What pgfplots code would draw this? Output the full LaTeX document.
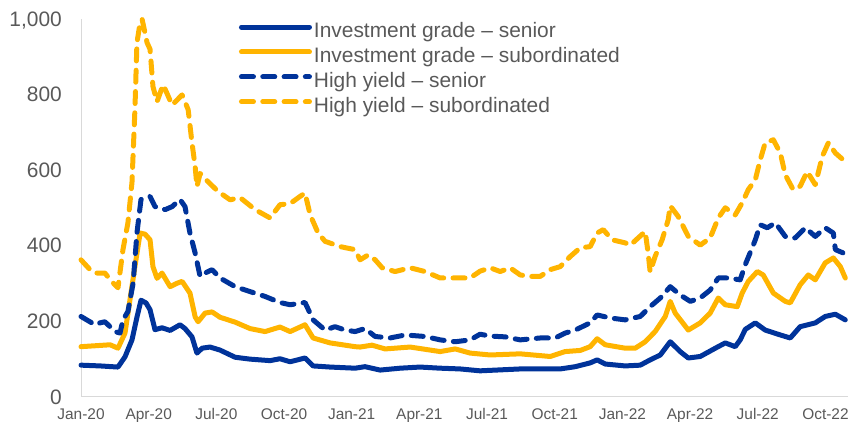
\documentclass[border=0pt]{standalone}
\usepackage{pgfplots}
\pgfplotsset{compat=1.18}
\usepackage{fontspec}
\setmainfont{Liberation Sans}
\definecolor{ebblue}{RGB}{0,51,154}
\definecolor{ebyellow}{RGB}{255,180,0}
\definecolor{txtgray}{RGB}{89,89,89}
\definecolor{axgray}{RGB}{217,217,217}
\begin{document}
\begin{tikzpicture}
\useasboundingbox (0,0) rectangle (852bp,422bp);
\begin{axis}[
  at={(81bp,25.5bp)}, anchor=south west,
  width=767bp, height=377.5bp, scale only axis,
  xmin=0, xmax=34, ymin=0, ymax=1000,
  enlargelimits=false, clip=false,
  axis x line*=bottom, axis y line*=left,
  axis line style={-, draw=axgray, line width=1bp},
  major tick length=0pt,
  xtick={0,3,...,33},
  xticklabels={Jan-20,Apr-20,Jul-20,Oct-20,Jan-21,Apr-21,Jul-21,Oct-21,Jan-22,Apr-22,Jul-22,Oct-22},
  ytick={0,200,...,1000},
  /pgf/number format/assume math mode=true,
  /pgf/number format/1000 sep={,},
  xticklabel style={font=\fontsize{15.5}{16}\selectfont, text=txtgray, anchor=north, inner sep=0pt, yshift=-11.8bp},
  yticklabel style={font=\fontsize{21}{22}\selectfont, text=txtgray, anchor=base east, inner sep=0pt, xshift=-19bp, yshift=-7.5bp},
  legend style={at={(0.2057,0.993)}, anchor=north west, draw=none, fill=none,
    inner sep=0pt, row sep=3.4bp, column sep=0pt,
    font=\fontsize{21}{22}\selectfont, text=txtgray,
    nodes={inner sep=1bp, text height=15bp, text depth=4.5bp}},
  legend cell align=left,
  legend image code/.code={\draw[#1] (0bp,5.5bp) -- (68bp,5.5bp);},
  every axis plot/.append style={line width=5bp, line cap=round, line join=round},
]
% Investment grade - senior
\addplot[ebblue] coordinates {
(0,83) (0.84,81) (1.64,78) (1.95,105) (2.26,150) (2.48,210) (2.66,255) (2.88,248) (3.06,230) (3.28,177) (3.59,182) (3.95,175) (4.39,190) (4.61,180) (4.92,158) (5.14,115) (5.37,128) (5.72,131) (6.16,123) (6.83,104) (7.49,99) (8.38,95) (8.82,100) (9.27,92) (9.93,102) (10.29,81) (11.04,78) (12.15,75) (12.59,79) (13.26,70) (14.15,75) (15.03,78) (15.92,75) (16.81,73) (17.69,68) (19.47,73) (21.24,73) (21.91,79) (22.57,89) (22.88,97) (23.24,86) (24.12,81) (24.79,83) (25.23,97) (25.68,110) (26.12,145) (26.56,119) (26.92,102) (27.45,106) (28.12,128) (28.56,142) (29.00,132) (29.22,150) (29.45,178) (29.89,195) (30.33,176) (31.00,163) (31.44,155) (31.88,185) (32.55,195) (32.99,212) (33.44,218) (33.88,203)
};
\addlegendentry{\hspace{1bp}Investment grade – senior}
% Investment grade - subordinated
\addplot[ebyellow] coordinates {
(0,132) (1.29,137) (1.64,128) (1.95,168) (2.17,256) (2.39,344) (2.62,433) (2.84,430) (3.06,415) (3.19,344) (3.37,313) (3.59,327) (3.95,291) (4.26,300) (4.48,305) (4.83,274) (5.06,211) (5.19,198) (5.50,221) (5.81,224) (6.16,210) (6.83,197) (7.49,180) (8.16,172) (8.82,184) (9.27,172) (9.93,190) (10.29,155) (11.04,142) (12.15,132) (12.37,131) (12.90,136) (13.48,126) (14.59,131) (15.92,119) (16.59,126) (17.25,115) (18.14,110) (19.47,113) (20.80,106) (21.46,119) (22.13,122) (22.57,132) (22.88,153) (23.24,137) (24.12,128) (24.57,128) (25.01,145) (25.45,172) (25.90,212) (26.12,252) (26.34,221) (26.92,176) (27.45,195) (27.89,221) (28.25,261) (28.56,243) (29.09,238) (29.31,274) (29.58,305) (29.98,331) (30.24,322) (30.69,274) (31.22,252) (31.44,248) (31.88,296) (32.24,322) (32.55,309) (32.99,354) (33.35,367) (33.66,344) (33.88,314)
};
\addlegendentry{\hspace{1bp}Investment grade – subordinated}
% High yield - senior
\addplot[ebblue, dash pattern=on 12bp off 9.3bp] coordinates {
(0,212) (0.62,190) (0.84,195) (1.06,198) (1.51,172) (1.73,168) (1.86,203) (2.08,225) (2.31,300) (2.48,433) (2.66,522) (2.84,527) (3.06,530) (3.28,503) (3.50,500) (3.73,495) (4.04,503) (4.39,522) (4.61,503) (4.83,433) (5.06,380) (5.28,318) (5.50,327) (5.81,336) (6.16,314) (6.83,291) (7.49,278) (8.16,265) (8.82,249) (9.27,243) (9.93,249) (10.29,203) (10.82,176) (11.26,185) (11.71,176) (12.15,172) (12.59,180) (13.04,159) (13.70,155) (14.37,163) (15.25,159) (15.92,150) (16.59,145) (17.25,150) (17.69,165) (18.14,160) (18.80,158) (19.47,150) (20.35,155) (21.02,155) (21.46,168) (21.91,176) (22.57,195) (22.88,216) (23.46,208) (24.12,203) (24.79,212) (25.23,238) (25.68,261) (26.12,291) (26.56,269) (27.01,252) (27.45,261) (27.89,282) (28.25,314) (28.69,314) (29.22,309) (29.45,350) (29.76,395) (29.89,415) (30.11,455) (30.42,447) (30.78,460) (31.22,424) (31.66,420) (32.11,447) (32.55,424) (32.99,447) (33.35,433) (33.44,389) (33.88,378)
};
\addlegendentry{\hspace{1bp}High yield – senior}
% High yield - subordinated
\addplot[ebyellow, dash pattern=on 12bp off 9.3bp] coordinates {
(0,362) (0.40,336) (0.62,327) (1.06,327) (1.37,304) (1.64,288) (1.86,389) (2.08,460) (2.26,567) (2.39,760) (2.48,937) (2.62,990) (2.71,999) (2.93,937) (3.06,920) (3.19,821) (3.37,781) (3.64,826) (4.04,772) (4.48,799) (4.75,760) (4.92,672) (5.06,609) (5.14,556) (5.28,591) (5.63,569) (6.08,543) (6.61,521) (7.05,527) (7.72,495) (8.38,473) (8.82,508) (9.27,511) (9.71,530) (9.93,539) (10.16,481) (10.51,433) (10.82,411) (11.49,397) (12.15,389) (12.37,362) (12.73,375) (13.04,362) (13.35,341) (13.92,331) (14.59,341) (15.25,331) (15.92,314) (16.59,314) (17.25,314) (17.69,332) (18.14,341) (18.58,331) (19.02,341) (19.47,322) (19.91,318) (20.35,318) (20.80,336) (21.24,344) (21.69,371) (22.13,394) (22.57,397) (22.88,433) (23.15,442) (23.55,415) (24.12,407) (24.35,401) (25.01,437) (25.14,380) (25.23,330) (25.45,371) (25.76,415) (26.03,468) (26.12,505) (26.47,477) (26.92,424) (27.45,401) (27.89,420) (28.25,473) (28.56,500) (29.00,481) (29.31,513) (29.58,548) (29.89,574) (30.11,627) (30.33,672) (30.69,680) (31.00,645) (31.22,587) (31.57,548) (31.88,557) (32.19,596) (32.55,561) (32.86,636) (33.13,672) (33.44,645) (33.88,622)
};
\addlegendentry{\hspace{1bp}High yield – subordinated}
\end{axis}
\end{tikzpicture}
\end{document}
